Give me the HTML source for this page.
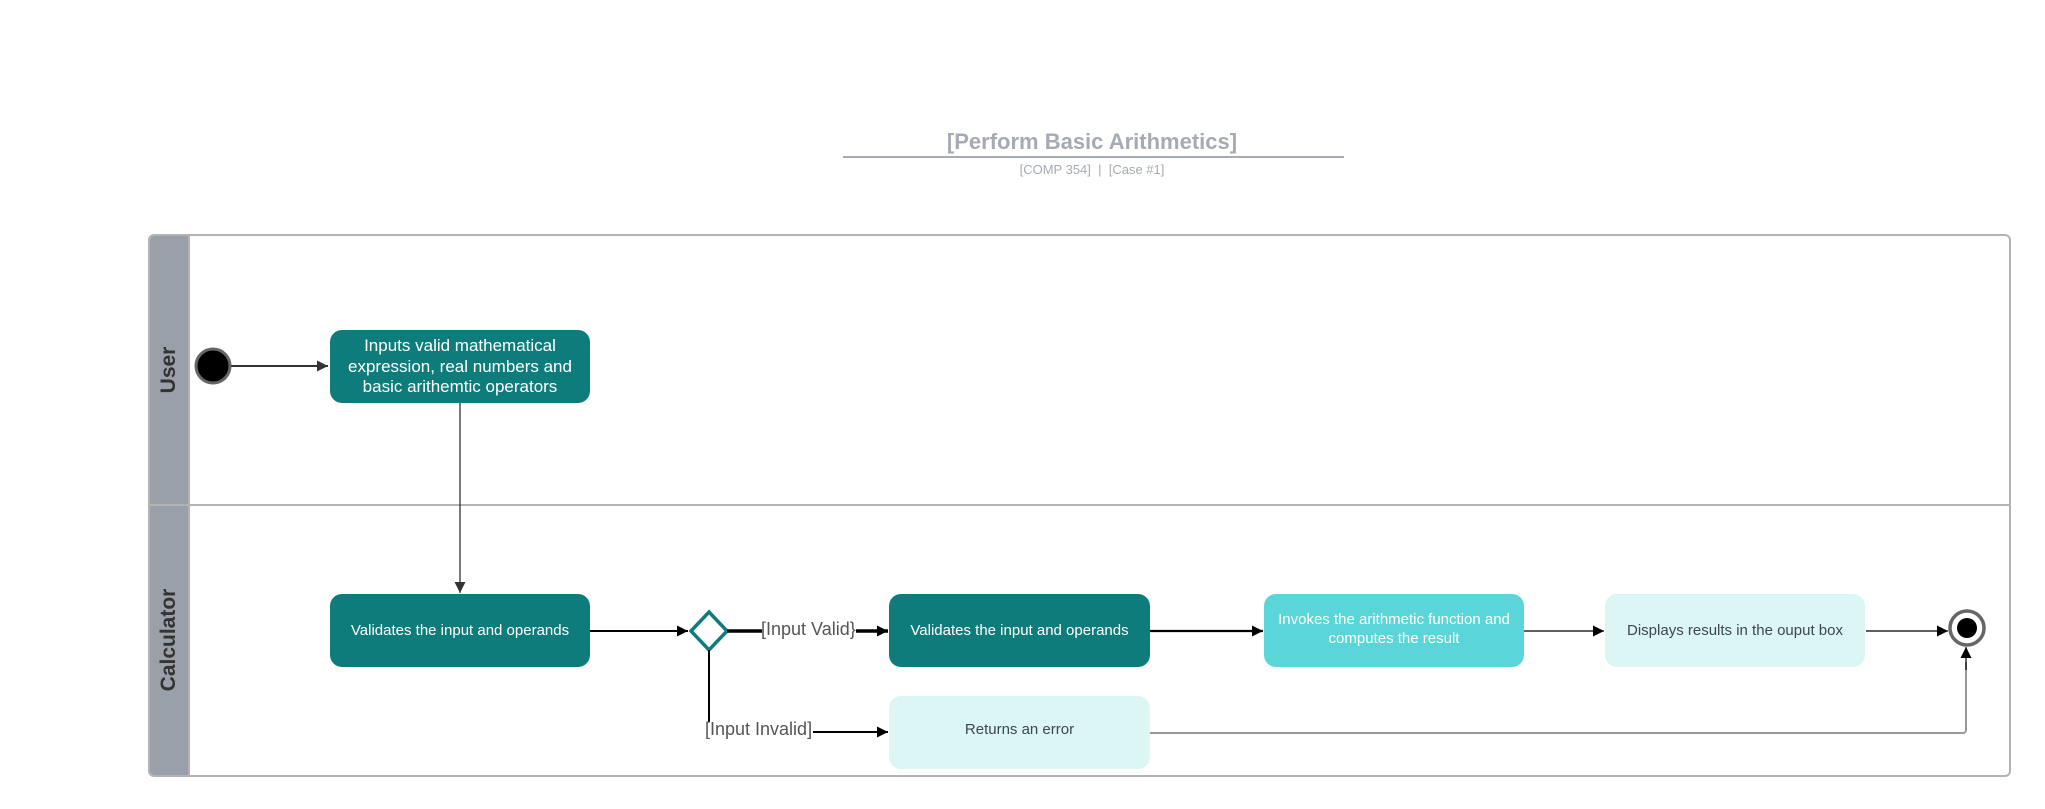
<!DOCTYPE html>
<html><head><meta charset="utf-8"><style>
html,body{margin:0;padding:0;background:#fff;}
svg{display:block;font-family:"Liberation Sans",Arial,sans-serif;}
</style></head><body>
<svg width="2045" height="809" viewBox="0 0 2045 809" xmlns="http://www.w3.org/2000/svg">
<defs>
<marker id="a" viewBox="0 0 10 10" refX="10" refY="5" markerWidth="16" markerHeight="11" markerUnits="userSpaceOnUse" orient="auto"><path d="M0,0 L10,5 L0,10 z" fill="#000"/></marker>
<marker id="ag" viewBox="0 0 10 10" refX="10" refY="5" markerWidth="16" markerHeight="11" markerUnits="userSpaceOnUse" orient="auto"><path d="M0,0 L10,5 L0,10 z" fill="#333"/></marker>
</defs>
<text x="1092" y="149" text-anchor="middle" font-size="22" font-weight="bold" fill="#a6abb3">[Perform Basic Arithmetics]</text>
<line x1="843" y1="157" x2="1344" y2="157" stroke="#a6abb3" stroke-width="2"/>
<text x="1092" y="174" text-anchor="middle" font-size="13" fill="#a6abb3" xml:space="preserve">[COMP 354]  |  [Case #1]</text>
<rect x="149" y="235" width="1861" height="541" rx="5" fill="#fff" stroke="#b3b3b3" stroke-width="2"/>
<path d="M154,236 H189 V775 H154 a4,4 0 0 1 -4,-4 V240 a4,4 0 0 1 4,-4z" fill="#9aa0a9"/>
<line x1="189" y1="235" x2="189" y2="776" stroke="#b3b3b3" stroke-width="2"/>
<line x1="149" y1="505" x2="2010" y2="505" stroke="#b3b3b3" stroke-width="2"/>
<text transform="translate(175,370) rotate(-90)" text-anchor="middle" font-size="21" font-weight="bold" fill="#333">User</text>
<text transform="translate(175,640) rotate(-90)" text-anchor="middle" font-size="21" font-weight="bold" fill="#333">Calculator</text>
<circle cx="213" cy="366" r="17" fill="#000" stroke="#666" stroke-width="3"/>
<line x1="231" y1="366" x2="328" y2="366" stroke="#333" stroke-width="2" marker-end="url(#ag)"/>
<rect x="330" y="330" width="260" height="73" rx="12" fill="#0e7c7b"/>
<text x="460" y="351" text-anchor="middle" font-size="17" fill="#fff">Inputs valid mathematical</text>
<text x="460" y="372" text-anchor="middle" font-size="17" fill="#fff">expression, real numbers and</text>
<text x="460" y="392" text-anchor="middle" font-size="17" fill="#fff">basic arithemtic operators</text>
<line x1="460" y1="403" x2="460" y2="593" stroke="#333" stroke-width="1.3" marker-end="url(#ag)"/>
<rect x="330" y="594" width="260" height="73" rx="12" fill="#0e7c7b"/>
<text x="460" y="635" text-anchor="middle" font-size="15" fill="#fff">Validates the input and operands</text>
<line x1="590" y1="631" x2="688" y2="631" stroke="#000" stroke-width="2" marker-end="url(#a)"/>
<path d="M709,612 L727,631 L709,650 L691,631 Z" fill="#fff" stroke="#0e7c7b" stroke-width="3.5"/>
<line x1="727" y1="631" x2="762" y2="631" stroke="#000" stroke-width="3.5"/>
<text x="761" y="635" font-size="18" fill="#555">[Input Valid}</text>
<line x1="856" y1="631" x2="888" y2="631" stroke="#000" stroke-width="3.5" marker-end="url(#a)"/>
<rect x="889" y="594" width="261" height="73" rx="12" fill="#0e7c7b"/>
<text x="1019.5" y="635" text-anchor="middle" font-size="15" fill="#fff">Validates the input and operands</text>
<line x1="1150" y1="631" x2="1263" y2="631" stroke="#000" stroke-width="2.2" marker-end="url(#a)"/>
<rect x="1264" y="594" width="260" height="73" rx="12" fill="#5ad6d8"/>
<text x="1394" y="624" text-anchor="middle" font-size="15" fill="#fff">Invokes the arithmetic function and</text>
<text x="1394" y="643" text-anchor="middle" font-size="15" fill="#fff">computes the result</text>
<line x1="1524" y1="631" x2="1604" y2="631" stroke="#000" stroke-width="1.2" marker-end="url(#a)"/>
<rect x="1605" y="594" width="260" height="73" rx="12" fill="#dcf5f5"/>
<text x="1735" y="635" text-anchor="middle" font-size="15" fill="#3d4752">Displays results in the ouput box</text>
<line x1="1866" y1="631" x2="1948" y2="631" stroke="#000" stroke-width="1.2" marker-end="url(#a)"/>
<circle cx="1967" cy="628" r="17" fill="#fff" stroke="#666" stroke-width="3.5"/>
<circle cx="1967" cy="628" r="10" fill="#000"/>
<line x1="709" y1="650" x2="709" y2="722" stroke="#000" stroke-width="2"/>
<text x="705" y="735" font-size="18" fill="#555">[Input Invalid]</text>
<line x1="813" y1="732" x2="888" y2="732" stroke="#000" stroke-width="2" marker-end="url(#a)"/>
<rect x="889" y="696" width="261" height="73" rx="12" fill="#dcf5f5"/>
<text x="1019.5" y="734" text-anchor="middle" font-size="15" fill="#3d4752">Returns an error</text>
<path d="M1150,733 H1963 a3,3 0 0 0 3,-3 V662" fill="none" stroke="#999" stroke-width="2"/>
<line x1="1966" y1="670" x2="1966" y2="647" stroke="#000" stroke-width="1.2" marker-end="url(#a)"/>
</svg>
</body></html>
